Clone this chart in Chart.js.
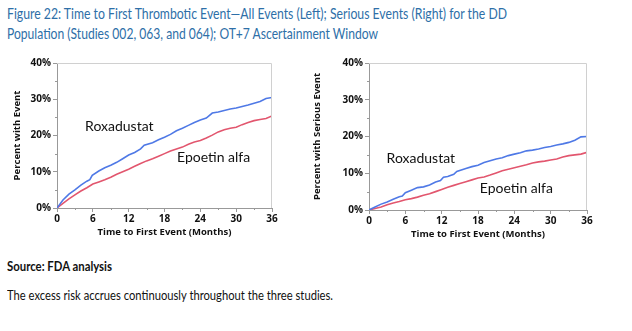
<!DOCTYPE html>
<html>
<head>
<meta charset="utf-8">
<script src="https://cdn.jsdelivr.net/npm/chart.js@4.4.1/dist/chart.umd.min.js"></script>
<style>
  body { margin: 0; background: #fff; width: 632px; height: 331px; overflow: hidden; position: relative; }
  .txt { position: absolute; white-space: nowrap; font-family: Lato, "Open Sans", sans-serif; transform-origin: 0 0; }
  .cap { color: #2e6fa8; font-size: 15px; }
  .box { position: absolute; top: 55px; height: 190px; }
</style>
</head>
<body>
<div class="txt cap" id="t1" style="left:7px; top:4px;" data-w="500">Figure 22: Time to First Thrombotic Event—All Events (Left); Serious Events (Right) for the DD</div>
<div class="txt cap" id="t2" style="left:7px; top:24px;" data-w="371">Population (Studies 002, 063, and 064); OT+7 Ascertainment Window</div>
<div class="box" style="left:0; width:285px;"><canvas id="left"></canvas></div>
<div class="box" style="left:300px; width:300px;"><canvas id="right"></canvas></div>
<div class="txt" style="left:7px; top:257px; font-size:14px; font-weight:bold; color:#111;" data-w="105">Source: FDA analysis</div>
<div class="txt" style="left:7px; top:286px; font-size:14px; color:#111;" data-w="326">The excess risk accrues continuously throughout the three studies.</div>
<script>
// all thrombotic events (left panel)
const allRoxaMonths = [0,1,2,3,4,5,5.5,5.9,7,8,9,10,11,12,13,14,14.6,16,17,18,19,20,21,22,23,24,25,26,27,28,29,30,31,32,33,34,35,36];
const allRoxaPct    = [0,2.2,3.8,5.0,6.3,7.4,7.8,9.0,10.2,11.1,11.8,12.6,13.6,14.6,15.3,16.3,17.3,18.0,18.8,19.5,20.3,21.3,22.0,22.8,23.6,24.3,24.8,26.2,26.5,26.9,27.3,27.6,28.0,28.4,28.9,29.4,30.2,30.5];
const allEpoMonths  = [0,1,2,3,4,5,6,7,8,9,10,11,12,13,14,15,16,17,18,19,20,21,22,23,24,25,26,27,28,29,30,31,32,33,34,35,36];
const allEpoPct     = [0,1.3,2.5,3.6,4.7,5.6,6.6,7.2,7.8,8.5,9.3,10.0,10.7,11.5,12.3,13.0,13.6,14.3,15.0,15.7,16.3,16.8,17.6,18.2,18.6,19.3,20.1,21.0,21.6,22.0,22.3,23.0,23.6,24.1,24.4,24.7,25.4];

// serious thrombotic events (right panel)
const serRoxaMonths = [0,1,2,3,4,5,5.5,6,7,8,9,10,11,11.8,12.3,13,14,14.5,16,17,18,19,20,21,22,23,24,25,26,27,28,29,30,31,32,33,34,35,36];
const serRoxaPct    = [0,0.8,1.6,2.2,2.9,3.6,3.8,4.7,5.4,6.1,6.3,6.8,7.6,8.0,8.9,9.1,9.7,10.5,11.3,11.8,12.2,12.9,13.4,13.9,14.2,14.8,15.2,15.6,16.1,16.3,16.6,17.0,17.3,17.7,18.0,18.4,19.0,19.9,20.0];
const serEpoMonths  = [0,1,2,3,4,5,6,7,8,9,10,11,12,13,14,15,16,17,18,19,20,21,22,23,24,25,26,27,28,29,30,31,32,33,34,35,36];
const serEpoPct     = [0,0.4,0.8,1.4,1.9,2.3,2.8,3.1,3.5,4.0,4.4,5.0,5.6,6.2,6.7,7.2,7.7,8.2,8.7,9.0,9.5,10.1,10.7,11.1,11.5,11.9,12.3,12.8,13.1,13.3,13.6,13.9,14.4,14.8,15.0,15.2,15.7];

const xTicks = [0, 6, 12, 18, 24, 30, 36];
const yTicks = [0, 10, 20, 30, 40];

const blue = '#4f79e6';
const red = '#e2566e';

function pts(xs, ys) { return xs.map((x, i) => ({ x: x, y: ys[i] })); }

// frame, minor ticks and the in-chart series labels
const extras = {
  id: 'extras',
  afterDraw(chart) {
    const c = chart.ctx, a = chart.chartArea;
    const xs = chart.scales.x, ys = chart.scales.y;
    c.save();
    c.strokeStyle = '#d0d0d0';
    c.lineWidth = 1;
    c.beginPath();
    c.moveTo(a.left, a.top + 0.5); c.lineTo(a.right - 0.5, a.top + 0.5); c.lineTo(a.right - 0.5, a.bottom);
    c.stroke();
    c.strokeStyle = '#999';
    c.beginPath();
    for (let v = 5; v < 40; v += 10) {
      const y = Math.round(ys.getPixelForValue(v)) + 0.5;
      c.moveTo(a.left - 2, y); c.lineTo(a.left, y);
    }
    for (let v = 3; v < 36; v += 6) {
      const x = Math.round(xs.getPixelForValue(v)) + 0.5;
      c.moveTo(x, a.bottom); c.lineTo(x, a.bottom + 2);
    }
    c.stroke();
    c.fillStyle = '#111';
    c.font = '14px Lato, "Open Sans", sans-serif';
    c.textBaseline = 'middle';
    chart.options.plugins.extras.labels.forEach(l => {
      c.fillText(l.text, xs.getPixelForValue(l.x), ys.getPixelForValue(l.y));
    });
    c.restore();
  }
};

function makeChart(id, yTitle, roxa, epo, labels, yWidth, padBottom) {
  const tickFont = { family: '"Open Sans", sans-serif', size: 10, weight: 'bold' };
  return new Chart(document.getElementById(id), {
    type: 'line',
    data: {
      datasets: [
        { label: 'Roxadustat', data: roxa, borderColor: blue, borderWidth: 1.6, pointRadius: 0, tension: 0 },
        { label: 'Epoetin alfa', data: epo, borderColor: red, borderWidth: 1.6, pointRadius: 0, tension: 0 }
      ]
    },
    options: {
      responsive: true,
      maintainAspectRatio: false,
      animation: false,
      layout: { padding: { top: 8, right: 13, left: 12, bottom: padBottom } },
      plugins: { legend: { display: false }, tooltip: { enabled: false }, extras: { labels: labels } },
      scales: {
        x: {
          type: 'linear', min: 0, max: 36,
          afterBuildTicks: s => { s.ticks = xTicks.map(v => ({ value: v })); },
          afterFit: s => { s.height = 30; },
          ticks: { font: tickFont, color: '#111', padding: 1, maxRotation: 0 },
          grid: { drawOnChartArea: false, tickLength: 4, color: '#999' },
          border: { color: '#999' },
          title: { display: true, text: 'Time to First Event (Months)', font: { family: '"Open Sans", sans-serif', size: 9.5, weight: 'bold' }, color: '#111', padding: { top: 1, bottom: 0 } }
        },
        y: {
          min: 0, max: 40,
          afterBuildTicks: s => { s.ticks = yTicks.map(v => ({ value: v })); },
          afterFit: s => { s.width = yWidth; },
          ticks: { font: tickFont, color: '#111', padding: 2, callback: v => v + '%' },
          grid: { drawOnChartArea: false, tickLength: 4, color: '#999' },
          border: { color: '#999' },
          title: { display: true, text: yTitle, font: { family: '"Open Sans", sans-serif', size: 9.5, weight: 'bold' }, color: '#111', padding: { top: 0, bottom: 0 } }
        }
      }
    },
    plugins: [extras]
  });
}

makeChart('left', 'Percent with Event', pts(allRoxaMonths, allRoxaPct), pts(allEpoMonths, allEpoPct),
  [{ text: 'Roxadustat', x: 4.7, y: 22.5 }, { text: 'Epoetin alfa', x: 20.1, y: 13.9 }], 45, 7);
makeChart('right', 'Percent with Serious Event', pts(serRoxaMonths, serRoxaPct), pts(serEpoMonths, serEpoPct),
  [{ text: 'Roxadustat', x: 2.9, y: 14 }, { text: 'Epoetin alfa', x: 18.3, y: 5.8 }], 57, 5);

// squeeze the text lines to the widths seen in the figure
document.querySelectorAll('.txt[data-w]').forEach(el => {
  const w = el.getBoundingClientRect().width;
  el.style.transform = 'scaleX(' + (parseFloat(el.dataset.w) / w) + ')';
});
</script>
</body>
</html>
